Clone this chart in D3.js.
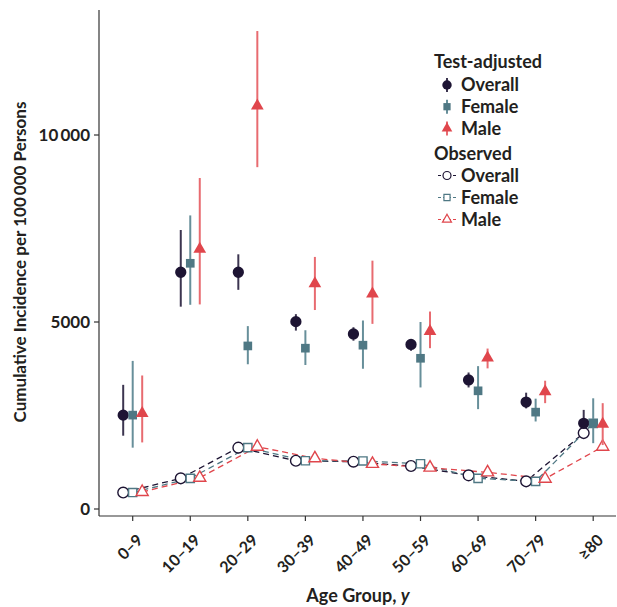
<!DOCTYPE html>
<html>
<head>
<meta charset="utf-8">
<script src="https://cdn.jsdelivr.net/npm/d3@7"></script>
<style>
  body { margin: 0; background: #fff; }
  text { font-family: Lato, "Open Sans", sans-serif; font-weight: bold; fill: #231f20; }
</style>
</head>
<body>
<div id="chart"></div>
<script>
// age groups on the x axis
var ages = ["0\u20139", "10\u201319", "20\u201329", "30\u201339", "40\u201349", "50\u201359", "60\u201369", "70\u201379", "\u226580"]

// test-adjusted estimates with 95% intervals
var adjOverall = [2510, 6330, 6330, 5010, 4680, 4400, 3450, 2860, 2290]
var adjOverallLo = [1960, 5410, 5860, 4770, 4500, 4230, 3250, 2690, 2150]
var adjOverallHi = [3320, 7460, 6810, 5210, 4860, 4540, 3650, 3110, 2650]

var adjFemale = [2510, 6570, 4360, 4300, 4380, 4030, 3160, 2590, 2290]
var adjFemaleLo = [1640, 5460, 3870, 3850, 3750, 3250, 2670, 2340, 1760]
var adjFemaleHi = [3960, 7850, 4890, 4780, 5040, 5000, 3820, 2950, 2960]

var adjMale = [2560, 6950, 10780, 6030, 5750, 4750, 4040, 3140, 2270]
var adjMaleLo = [1780, 5470, 9140, 5320, 4950, 4300, 3760, 2830, 1710]
var adjMaleHi = [3570, 8850, 12780, 6740, 6640, 5280, 4290, 3430, 2830]

// observed incidence
var obsOverall = [440, 820, 1640, 1290, 1265, 1150, 900, 740, 2030]
var obsFemale = [440, 820, 1640, 1290, 1285, 1210, 820, 740, 2290]
var obsMale = [455, 835, 1665, 1355, 1205, 1105, 980, 810, 1665]

var yTicks = [0, 5000, 10000]

var width = 617
var height = 607

var colOverall = "#1d1433"
var colFemale = "#4f7884"
var colMale = "#e0464c"

var svg = d3.select("#chart")
  .append("svg")
    .attr("width", width)
    .attr("height", height)

var x = d3.scalePoint()
  .domain(ages)
  .range([132.7, 593.2])

var y = d3.scaleLinear()
  .domain([0, 10000])
  .range([509, 135])

var axisLeft = 99
var axisBottom = 516

// axes
svg.append("line")
  .attr("x1", axisLeft).attr("x2", axisLeft)
  .attr("y1", 10).attr("y2", axisBottom)
  .attr("stroke", "#333").attr("stroke-width", 1.2)
svg.append("line")
  .attr("x1", axisLeft).attr("x2", 616)
  .attr("y1", axisBottom).attr("y2", axisBottom)
  .attr("stroke", "#333").attr("stroke-width", 1.2)

var fmt = function(d){ return d >= 10000 ? d3.format(",")(d).replace(",", "\u2009") : d }

svg.append("g").selectAll("line")
  .data(yTicks)
  .enter().append("line")
    .attr("x1", axisLeft - 5).attr("x2", axisLeft)
    .attr("y1", d => y(d)).attr("y2", d => y(d))
    .attr("stroke", "#333").attr("stroke-width", 1.2)
svg.append("g").selectAll("text")
  .data(yTicks)
  .enter().append("text")
    .attr("x", axisLeft - 9)
    .attr("y", d => y(d))
    .attr("dy", "0.36em")
    .attr("text-anchor", "end")
    .style("font-size", "17px")
    .text(fmt)

svg.append("g").selectAll("line")
  .data(ages)
  .enter().append("line")
    .attr("x1", d => x(d)).attr("x2", d => x(d))
    .attr("y1", axisBottom).attr("y2", axisBottom + 5)
    .attr("stroke", "#333").attr("stroke-width", 1.2)
svg.append("g").selectAll("text")
  .data(ages)
  .enter().append("text")
    .attr("transform", d => "translate(" + (x(d) + 3) + "," + (axisBottom + 17) + ") rotate(-45)")
    .attr("text-anchor", "end")
    .attr("dy", "0.72em")
    .style("font-size", "16px")
    .text(d => d)

svg.append("text")
  .attr("transform", "translate(26,262) rotate(-90)")
  .attr("text-anchor", "middle")
  .style("font-size", "17px")
  .text("Cumulative Incidence per 100\u2009000 Persons")

var xt = svg.append("text")
  .attr("x", 358).attr("y", 602)
  .attr("text-anchor", "middle")
  .style("font-size", "18px")
xt.append("tspan").text("Age Group, ")
xt.append("tspan").style("font-style", "italic").text("y")

// marker shapes
function marker(sel, shape, size){
  var sym = shape == "circle" ? d3.symbolCircle : shape == "square" ? d3.symbolSquare : d3.symbolTriangle
  return sel.attr("d", d3.symbol().type(sym).size(size))
}

var series = [
  {val: adjOverall, lo: adjOverallLo, hi: adjOverallHi, obs: obsOverall, col: colOverall, bar: "#3c3550", shape: "circle", size: 100, dx: -9.5},
  {val: adjFemale, lo: adjFemaleLo, hi: adjFemaleHi, obs: obsFemale, col: colFemale, bar: "#678f9a", shape: "square", size: 75, dx: 0},
  {val: adjMale, lo: adjMaleLo, hi: adjMaleHi, obs: obsMale, col: colMale, bar: "#e86b70", shape: "triangle", size: 70, dx: 9.5}
]

// observed dashed lines
series.forEach(function(s){
  var line = d3.line()
    .x((d, i) => x(ages[i]) + s.dx)
    .y(d => y(d))
  svg.append("path")
    .datum(s.obs)
    .attr("d", line)
    .attr("fill", "none")
    .attr("stroke", s.col)
    .attr("stroke-width", 1.3)
    .attr("stroke-dasharray", "6,4")
})

series.forEach(function(s){
  svg.append("g").selectAll("path")
    .data(s.obs)
    .enter().append("path")
      .call(marker, s.shape, s.size * 0.9)
      .attr("transform", (d, i) => "translate(" + (x(ages[i]) + s.dx) + "," + y(d) + ")")
      .attr("fill", "#fff")
      .attr("stroke", s.col)
      .attr("stroke-width", 1.4)
})

// test-adjusted error bars and points
series.forEach(function(s){
  var g = svg.append("g")
  g.selectAll("line")
    .data(s.val)
    .enter().append("line")
      .attr("x1", (d, i) => x(ages[i]) + s.dx)
      .attr("x2", (d, i) => x(ages[i]) + s.dx)
      .attr("y1", (d, i) => y(s.lo[i]))
      .attr("y2", (d, i) => y(s.hi[i]))
      .attr("stroke", s.bar)
      .attr("stroke-width", 2)
  g.selectAll("path")
    .data(s.val)
    .enter().append("path")
      .call(marker, s.shape, s.size)
      .attr("transform", (d, i) => "translate(" + (x(ages[i]) + s.dx) + "," + y(d) + ")")
      .attr("fill", s.col)
})

// legend
var names = ["Overall", "Female", "Male"]
var legend = svg.append("g")
legend.append("text").attr("x", 434).attr("y", 67.5).style("font-size", "18px").text("Test-adjusted")
legend.append("text").attr("x", 434).attr("y", 160).style("font-size", "18px").text("Observed")

series.forEach(function(s, i){
  var ya = 85 + i * 21.7
  legend.append("line")
    .attr("x1", 447).attr("x2", 447)
    .attr("y1", ya - 7).attr("y2", ya + 7)
    .attr("stroke", s.bar).attr("stroke-width", 2)
  legend.append("path")
    .call(marker, s.shape, s.size * 0.7)
    .attr("transform", "translate(447," + ya + ")")
    .attr("fill", s.col)
  legend.append("text")
    .attr("x", 461).attr("y", ya).attr("dy", "0.36em")
    .style("font-size", "18px").text(names[i])

  var yo = 175.5 + i * 22
  legend.append("line")
    .attr("x1", 438).attr("x2", 456)
    .attr("y1", yo).attr("y2", yo)
    .attr("stroke", s.col).attr("stroke-width", 1.2)
    .attr("stroke-dasharray", "3,2")
  legend.append("path")
    .call(marker, s.shape, s.size * 0.5)
    .attr("transform", "translate(447," + yo + ")")
    .attr("fill", "#fff")
    .attr("stroke", s.col).attr("stroke-width", 1.2)
  legend.append("text")
    .attr("x", 461).attr("y", yo).attr("dy", "0.36em")
    .style("font-size", "18px").text(names[i])
})
</script>
</body>
</html>
